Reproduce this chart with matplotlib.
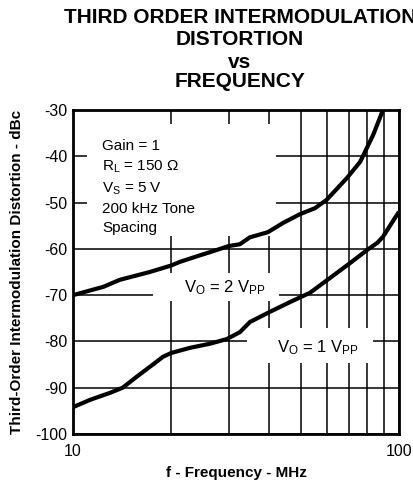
import matplotlib
matplotlib.use("Agg")
import matplotlib.pyplot as plt
from matplotlib.patches import Rectangle
from matplotlib.ticker import FixedLocator, NullFormatter

plt.rcParams["font.family"] = ["Liberation Sans", "DejaVu Sans"]
plt.rcParams["mathtext.fontset"] = "custom"
plt.rcParams["mathtext.rm"] = "Liberation Sans"
plt.rcParams["mathtext.it"] = "Liberation Sans:italic"
plt.rcParams["mathtext.bf"] = "Liberation Sans:bold"
plt.rcParams["axes.unicode_minus"] = False

# === Datos ===
f_2vpp = [10, 12.4, 13.9, 17.2, 20, 21.3, 24.5, 26.9, 30, 32.5, 34.9, 39.6,
          44.1, 49.7, 55.3, 60, 69.2, 76, 83.3, 89.3]
imd_2vpp = [-70.0, -68.2, -66.7, -65.0, -63.6, -62.8, -61.4, -60.5, -59.4, -59.0,
            -57.5, -56.4, -54.4, -52.5, -51.2, -49.4, -44.7, -41.2, -35.4, -30.0]

f_1vpp = [10, 11.3, 13, 14.2, 15.7, 17.2, 18.9, 20, 22.8, 26.3, 29.6, 32.5,
          34.9, 40.2, 46.3, 53.3, 61.4, 70.7, 80, 85.8, 89.3, 95, 100]
imd_1vpp = [-94.2, -92.6, -91.1, -90.0, -87.6, -85.5, -83.3, -82.5, -81.4, -80.5,
            -79.5, -78.0, -75.8, -73.6, -71.5, -69.5, -66.3, -63.1, -60.2, -58.7,
            -57.4, -54.4, -52.0]

x_major = [10, 100]
x_minor = [20, 30, 40, 50, 60, 70, 80, 90]
y_ticks = [-100, -90, -80, -70, -60, -50, -40, -30]

TITULO = ["THIRD ORDER INTERMODULATION", "DISTORTION", "vs", "FREQUENCY"]
CONDICIONES = "Gain = 1\nR$_\\mathrm{L}$ = 150 Ω\nV$_\\mathrm{S}$ = 5 V\n200 kHz Tone\nSpacing"

W, H = 413, 487
fig = plt.figure(figsize=(W / 100, H / 100), dpi=100)
ax = fig.add_axes([73 / W, 1 - 434 / H, 326 / W, 324 / H])

ax.set_xscale("log")
ax.set_xlim(10, 100)
ax.set_ylim(-100, -30)
ax.xaxis.set_major_locator(FixedLocator(x_major))
ax.xaxis.set_minor_locator(FixedLocator(x_minor))
ax.xaxis.set_minor_formatter(NullFormatter())
ax.set_xticklabels([str(v) for v in x_major])
ax.set_yticks(y_ticks)
ax.tick_params(which="both", length=0, labelsize=11.5)
ax.tick_params(axis="x", pad=7)
ax.tick_params(axis="y", pad=4)

ax.set_axisbelow(True)
ax.grid(True, which="both", color="black", lw=1.1)
for s in ax.spines.values():
    s.set_linewidth(2)

# tapas blancas donde el grafico original corta la grilla
for x0, y0, x1, y1 in [(0.043, 0.611, 0.623, 0.957),
                       (0.245, 0.410, 0.632, 0.497),
                       (0.534, 0.219, 0.920, 0.327)]:
    ax.add_patch(Rectangle((x0, y0), x1 - x0, y1 - y0, transform=ax.transAxes,
                           facecolor="white", edgecolor="none", zorder=1.5))

ax.plot(f_2vpp, imd_2vpp, color="black", lw=3, zorder=3, solid_capstyle="butt")
ax.plot(f_1vpp, imd_1vpp, color="black", lw=3, zorder=3, solid_capstyle="butt")

ax.text(0.089, 0.91, CONDICIONES, transform=ax.transAxes, fontsize=11,
        va="top", ha="left", linespacing=1.45, zorder=2)
ax.text(0.467, 0.452, "V$_\\mathrm{O}$ = 2 V$_\\mathrm{PP}$", transform=ax.transAxes,
        fontsize=12, ha="center", va="center", zorder=2)
ax.text(0.752, 0.268, "V$_\\mathrm{O}$ = 1 V$_\\mathrm{PP}$", transform=ax.transAxes,
        fontsize=12, ha="center", va="center", zorder=2)

ax.set_xlabel("f - Frequency - MHz", fontsize=11, fontweight="bold", labelpad=5)
ax.set_ylabel("Third-Order Intermodulation Distortion - dBc", fontsize=11,
              fontweight="bold", labelpad=8)

for texto, base in zip(TITULO, [22.7, 45, 68, 86.7]):
    fig.text(240 / W, 1 - base / H, texto, fontsize=15, fontweight="bold",
             ha="center", va="baseline")

fig.savefig("out.png", dpi=100)
